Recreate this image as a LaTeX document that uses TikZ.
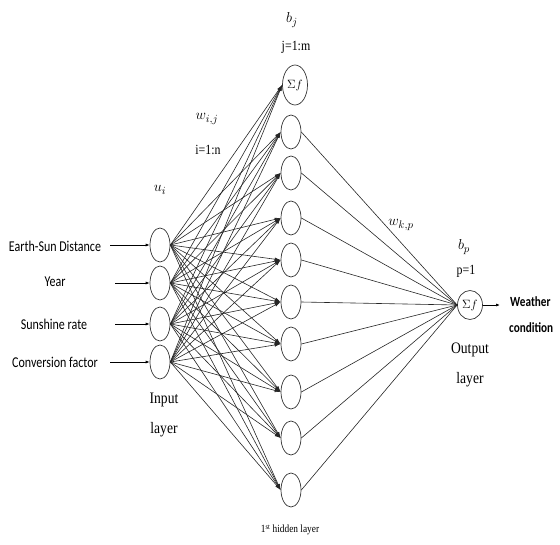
\documentclass[tikz,border=0pt]{standalone}
\usepackage{fontspec}
\setmainfont{Liberation Serif}
\newfontfamily\lblfont[FakeStretch=0.8]{Carlito}
\newfontfamily\serfont[FakeStretch=0.85]{Liberation Serif}
\usetikzlibrary{arrows.meta,shapes.geometric}
\begin{document}
\begin{tikzpicture}[x=1pt,y=-1pt,
  neuron/.style={draw=black!80, ellipse, minimum width=20pt, minimum height=34pt, inner sep=0pt, line width=0.7pt},
  sumnode/.style={draw=black!80, ellipse, inner sep=0pt, line width=0.7pt, font=\fontsize{13}{13}\selectfont},
  wire/.style={line width=0.6pt, draw=black!85, -{Latex[length=6pt,width=3.5pt]}},
  owire/.style={line width=0.6pt, draw=black!85},
  inarrow/.style={line width=0.7pt, -{Latex[length=4pt,width=3pt]}},
  inlabel/.style={font=\lblfont\fontsize{15}{15}\selectfont, inner sep=0pt},
  serlabel/.style={font=\serfont\fontsize{16}{16}\selectfont, inner sep=0pt},
  smallser/.style={font=\serfont\fontsize{14}{14}\selectfont, inner sep=0pt},
  mathlabel/.style={font=\fontsize{15}{15}\selectfont, inner sep=0pt},
  outlabel/.style={font=\lblfont\bfseries\fontsize{14}{14}\selectfont, inner sep=0pt, anchor=west}
]
\useasboundingbox (0,0) rectangle (560,544);
% input neurons
\foreach \i/\y in {1/245,2/283,3/324,4/362}
  \node[neuron] (in\i) at (160,\y) {};
% bias hidden node
\node[sumnode, minimum width=25pt, minimum height=40pt] (h0) at (295,85) {$\Sigma f$};
% hidden neurons
\foreach \h/\y in {1/132,2/173,3/218,4/260,5/302,6/344,7/392,8/438,9/490}
  \node[neuron] (h\h) at (291,\y) {};
% output neuron
\node[sumnode, minimum width=25pt, minimum height=29pt] (out) at (470,305) {$\Sigma f$};
% input -> hidden
\foreach \i in {1,...,4}
  \foreach \h in {0,...,9}
    \draw[wire] (in\i.east) -- (h\h.west);
% hidden -> output
\foreach \h in {1,...,9}
  \draw[owire] (h\h.east) -- (out.west);
% input labels
\node[inlabel] (l1) at (55,246) {Earth-Sun Distance};
\node[inlabel] (l2) at (55,282) {Year};
\node[inlabel] (l3) at (54,324) {Sunshine rate};
\node[inlabel] (l4) at (55,362) {Conversion factor};
\coordinate (s1) at (110,245);
\coordinate (s2) at (115,283);
\coordinate (s3) at (115,324);
\coordinate (s4) at (110,362);
\foreach \i in {1,...,4}
  \draw[inarrow] (s\i) -- (in\i.west);
% output arrow
\coordinate (oe) at (500,305);
\draw[inarrow] (out.east) -- (oe);
\node[outlabel] (wt) at (510,302) {Weather};
\node[outlabel] (wc) at (509,328) {condition};
% other labels
\node[mathlabel] (bj) at (292,20) {$b_j$};
\node[smallser] (jm) at (296,47) {j=1:m};
\node[mathlabel] (wij) at (207,119) {$w_{i,j}$};
\node[smallser] (in) at (208,150) {i=1:n};
\node[mathlabel] (ui) at (160,190) {$u_i$};
\node[mathlabel] (wkp) at (401,225) {$w_{k,p}$};
\node[mathlabel] (bp) at (464,247) {$b_p$};
\node[smallser] (p1) at (466,271) {p=1};
\node[serlabel] (ol1) at (470,350) {Output};
\node[serlabel] (ol2) at (470,380) {layer};
\node[serlabel] (il1) at (164,400) {Input};
\node[serlabel] (il2) at (164,430) {layer};
\node[serlabel, font=\serfont\fontsize{11}{11}\selectfont] (hl) at (290,530) {1\textsuperscript{st} hidden layer};
\end{tikzpicture}
\end{document}
